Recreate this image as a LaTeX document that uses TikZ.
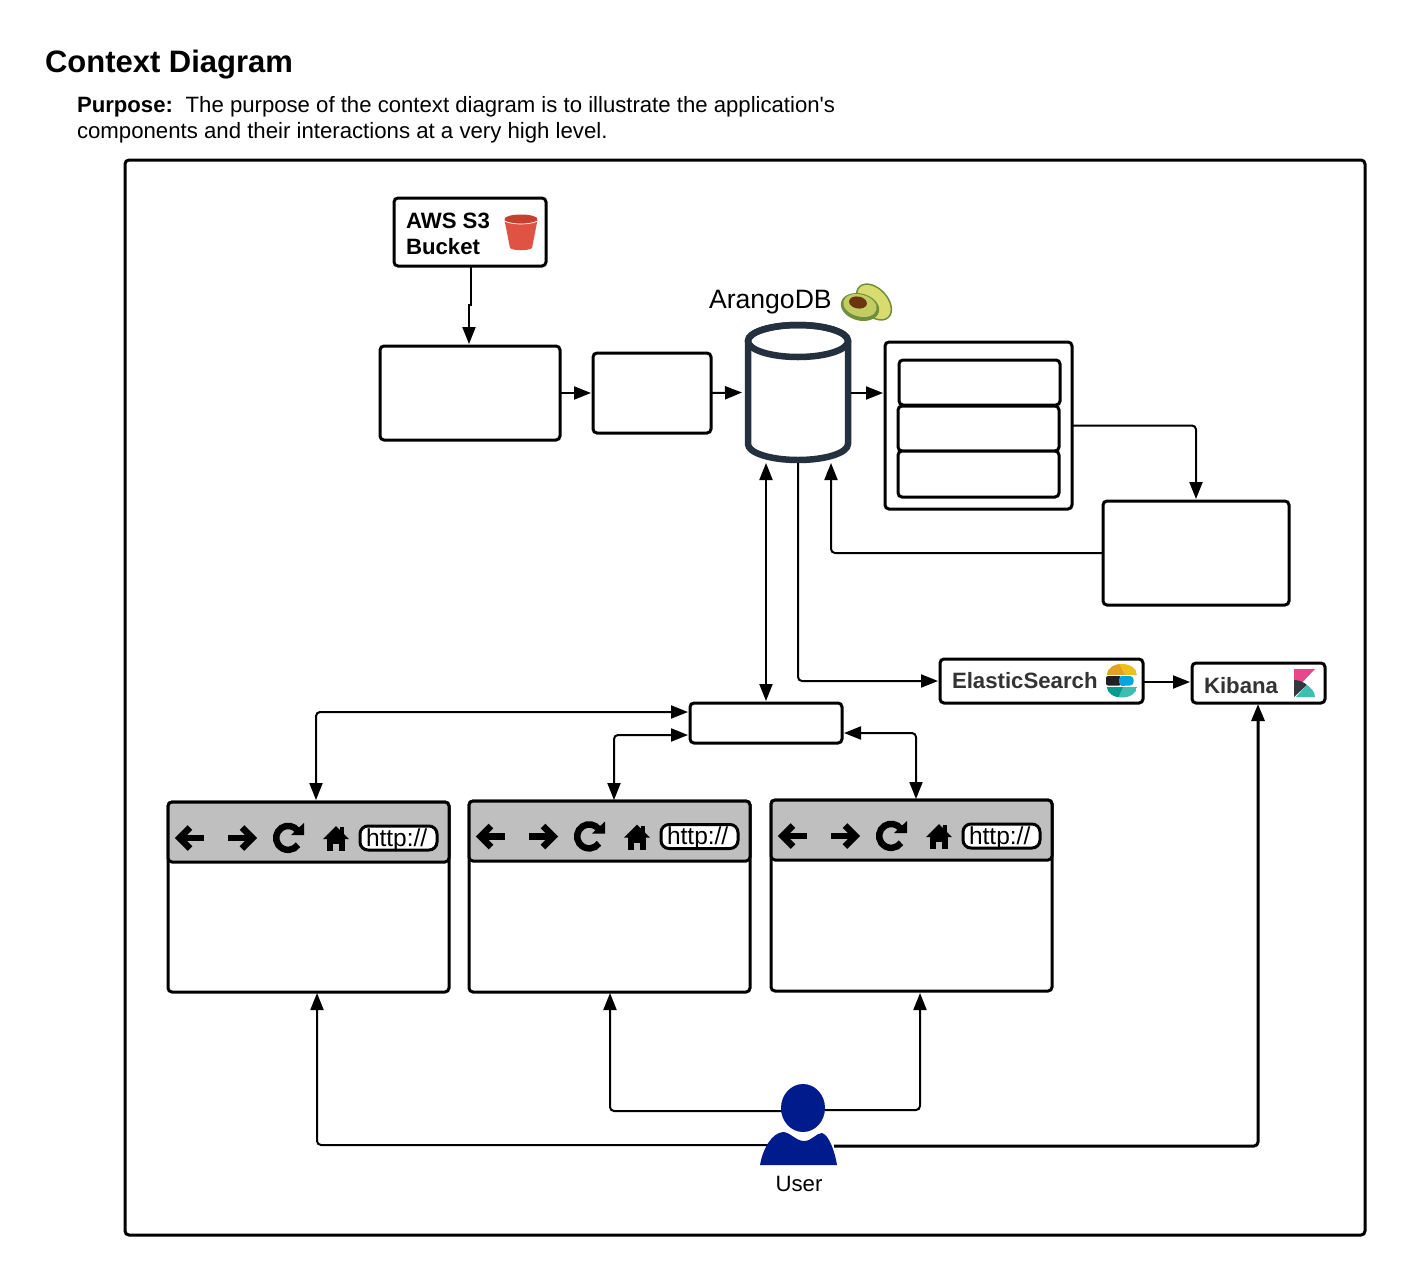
\documentclass[tikz,border=0pt]{standalone}
\usepackage{fontspec}
\setmainfont{Liberation Sans}
\newfontfamily\plainfont{Liberation Sans}
\usetikzlibrary{arrows.meta,calc}
\definecolor{dbc}{HTML}{25303F}
\definecolor{hdr}{HTML}{BFBFBF}
\definecolor{usr}{HTML}{001C8C}
\definecolor{bkt}{HTML}{E05243}
\definecolor{bktd}{HTML}{C7402F}
\definecolor{txtd}{HTML}{333333}
\definecolor{avol}{HTML}{D8DC6E}
\definecolor{avod}{HTML}{6F8F3A}
\definecolor{avom}{HTML}{C3CC62}
\definecolor{avop}{HTML}{6B3510}
\definecolor{esy}{HTML}{F0BF1A}
\definecolor{eso}{HTML}{DFA225}
\definecolor{esb}{HTML}{07A5DE}
\definecolor{esk}{HTML}{231F20}
\definecolor{est}{HTML}{3EBEB0}
\definecolor{estd}{HTML}{019B8F}
\definecolor{kbp}{HTML}{E8478B}
\definecolor{kbk}{HTML}{343741}
\tikzset{
  tip/.tip={Triangle[length=17pt,width=13pt]},
  box/.style={draw=black,fill=white,rounded corners=4pt,line width=3pt,inner sep=0pt,outer sep=0pt},
  hbox/.style={box,fill=hdr},
  conn/.style={draw=black,line width=2pt,rounded corners=4pt,-tip},
  both/.style={conn,tip-tip},
  heavy/.style={conn,line width=3pt},
  lbl/.style={inner sep=0pt,outer sep=0pt,anchor=base west,font=\fontsize{22.2}{26}\selectfont},
  blbl/.style={lbl,font=\fontsize{22.2}{26}\selectfont\bfseries},
  ico/.style={line width=6.5pt,draw=black},
  pics/browsericons/.style={code={
    \draw[ico] (12,36) -- (36,36);
    \draw[ico] (22,25.5) -- (11.5,36) -- (22,46.5);
    \draw[ico] (60,36) -- (84,36);
    \draw[ico] (74,25.5) -- (84.5,36) -- (74,46.5);
    \draw[ico] (130,29) arc[start angle=-35,end angle=-325,x radius=12,y radius=12];
    \fill[black] (123,33) -- (136,33) -- (136,21) -- cycle;
    \fill[black] (168,24) -- (181,37) -- (155,37) -- cycle;
    \fill[black] (159,36) rectangle (177,49);
    \fill[black] (172,25) rectangle (176,32);
    \fill[hdr] (165,42) rectangle (171,49);
    \node[draw=black,fill=white,line width=3pt,rounded corners=8pt,inner sep=0pt,outer sep=0pt,minimum width=77pt,minimum height=24pt] (url) at (230.5,36) {};
    \node[lbl,font=\fontsize{24.5}{26}\selectfont] (urltext) at (198,44) {http://};
  }}
}
\newcommand{\bx}[6][box]{%
  \pgfmathsetmacro{\bxw}{#5-#3}\pgfmathsetmacro{\bxh}{#6-#4}%
  \pgfmathsetmacro{\bxx}{(#5+#3)/2}\pgfmathsetmacro{\bxy}{(#6+#4)/2}%
  \node[#1,minimum width=\bxw pt,minimum height=\bxh pt] (#2) at (\bxx,\bxy) {};}
\begin{document}
\begin{tikzpicture}[x=1pt,y=-1pt]
\useasboundingbox (0,0) rectangle (1405,1275);
\fill[white] (0,0) rectangle (1405,1275);
% texts
\node[lbl,font=\fontsize{31}{34}\selectfont\bfseries] (title) at (45,72) {Context Diagram};
\node[lbl,font=\fontsize{22.15}{26}\selectfont\plainfont] (purp1) at (77,112) {\textbf{Purpose:}\hspace{4.5pt} The purpose of the context diagram is to illustrate the application's};
\node[lbl] (purp2) at (77,138.5) {components and their interactions at a very high level.};
% frame
\bx{frame}{125}{160}{1365}{1235}
% boxes
\bx{s3}{394}{198}{546}{266}
\bx{ingest}{380}{346}{560}{440}
\bx{loader}{593}{353}{711}{433}
\bx{stack}{885}{342}{1072}{509}
\bx{st1}{899}{360}{1060}{405}
\bx{st2}{898}{406}{1059}{451}
\bx{st3}{898}{451}{1059}{497}
\bx{ebox}{1103}{501}{1289}{605}
\bx{es}{940}{659}{1143}{703}
\bx{kib}{1192}{663}{1325}{703}
\bx{srv}{690}{703}{842}{743}
\bx{bra}{168}{802}{449}{992}
\bx[hbox]{braH}{168}{802}{449}{862}
\bx{brb}{469}{801}{750}{992}
\bx[hbox]{brbH}{469}{801}{750}{861}
\bx{brc}{771}{800}{1052}{991}
\bx[hbox]{brcH}{771}{800}{1052}{860}
\pic at (168,802) {browsericons};
\pic at (469,800.5) {browsericons};
\pic at (771,800) {browsericons};
% database
\node[inner sep=0pt,outer sep=0pt,minimum width=106pt,minimum height=141pt] (db) at (798,392.5) {};
\draw[draw=dbc,fill=white,line width=6.5pt,line join=round] (748,341) -- (748,444) arc[start angle=180,end angle=0,x radius=50,y radius=16] -- (848,341) arc[start angle=0,end angle=-180,x radius=50,y radius=16] -- cycle;
\draw[draw=dbc,line width=6.5pt] (798,341) ellipse[x radius=50,y radius=16];
% labels
\node[blbl] (s3t1) at (406,228) {AWS S3};
\node[blbl] (s3t2) at (406,254) {Bucket};
\node[lbl,font=\fontsize{26.6}{30}\selectfont] (arango) at (709,308) {ArangoDB};
\node[blbl,text=txtd] (estx) at (952,688.5) {ElasticSearch};
\node[blbl,text=txtd] (kibt) at (1204,693) {Kibana};
% S3 icon
\fill[bkt] (504.5,220) -- (510,248) .. controls (514,251) and (528,251) .. (532,248) -- (537.5,220) -- cycle;
\fill[bktd] (521,219) ellipse[x radius=16.5,y radius=4.5];
\draw[white,line width=.7pt] (504.5,221) .. controls (512,225) and (530,225) .. (537.5,221);
% avocado icon
\draw[draw=avod,fill=avol,line width=1.5pt,rotate around={-47:(874,302)}] (874,302) ellipse[x radius=21,y radius=13.5];
\fill[avod,rotate around={-15:(860,307)}] (860,307) ellipse[x radius=19.5,y radius=13.5];
\fill[avom,rotate around={-15:(860,305.5)}] (860,305.5) ellipse[x radius=17,y radius=11];
\fill[avop,rotate around={-10:(858,302.5)}] (858,302.5) ellipse[x radius=9,y radius=6];
% ES icon
\begin{scope}
\clip (1107,664) rectangle (1137,674.5);
\clip (1122,674.5) ellipse[x radius=15,y radius=10.5];
\fill[esy] (1107,664) rectangle (1137,675);
\fill[eso] (1107,675) -- (1107,664) -- (1119,664) -- (1125,675) -- cycle;
\end{scope}
\fill[esk,rounded corners=2pt] (1106,676) rectangle (1121,685.5);
\fill[esb,rounded corners=3.5pt] (1119,676) rectangle (1133.5,685.5);
\fill[esb] (1121,676) rectangle (1125,685.5);
\begin{scope}
\clip (1107,687) rectangle (1137,697.5);
\clip (1122,687) ellipse[x radius=15,y radius=10.5];
\fill[est] (1107,687) rectangle (1137,698);
\fill[estd] (1107,687) -- (1107,698) -- (1118,698) -- (1123,687) -- cycle;
\end{scope}
% Kibana icon
\fill[kbp] (1294,669) -- (1315,669) -- (1294,691) -- cycle;
\fill[kbk] (1294,680) .. controls (1299,680) and (1304,682) .. (1307,685) -- (1294,697) -- cycle;
\fill[est] (1296,697) -- (1307,685) .. controls (1311,688) and (1315,692) .. (1315,697) -- cycle;
% connectors
\draw[conn,sharp corners] ($(s3.south)+(1,0)$) -- ++(0,39) -| ($(ingest.north)+(-1,-2)$);
\draw[conn] (ingest.east) -- ($(loader.west)+(-2,0)$);
\draw[conn] (loader.east) -- ($(db.west)+(-3,0)$);
\draw[conn] (db.east |- loader.east) -- ($(stack.west |- loader.east)+(-2,0)$);
\draw[conn] (stack.east) -| ($(ebox.north)+(0,-2)$);
\draw[conn] (ebox.west) -| ($(db.south)+(33,0)$);
\draw[both] ($(db.south)+(-32,0)$) -- ($(srv.north)+(0,-2)$);
\draw[conn] (db.south) |- ($(es.west)+(-2,0)$);
\draw[conn] ($(es.east)+(0,1)$) -- ($(kib.west)+(-2,-1)$);
\draw[both] ($(srv.north west)+(-2,9)$) -| ($(bra.north west)+(148,-2)$);
\draw[both] ($(srv.north west)+(-2,32)$) -| ($(brb.north west)+(145,-1)$);
\draw[both] ($(srv.north east)+(2,30)$) -| ($(brc.north west)+(145,-1)$);
% user
\node[inner sep=0pt,outer sep=0pt,minimum width=77pt,minimum height=81pt] (user) at (798.5,1124.5) {};
\draw[conn] ($(user.west)+(21,20.5)$) -| ($(bra.south west)+(149,1)$);
\draw[conn] ($(user.west)+(23,-13.5)$) -| ($(brb.south west)+(141,1)$);
\draw[conn] ($(user.east)+(-13,-14.5)$) -| ($(brc.south west)+(149,2)$);
\draw[heavy] ($(user.east)+(-3,21.5)$) -| ($(kib.south)+(-0.5,1)$);
\fill[usr] (803,1108) ellipse[x radius=22,y radius=24];
\fill[usr] (760,1165) .. controls (763,1148) and (772,1133) .. (783,1132) .. controls (790,1132) and (796,1141) .. (804,1141) .. controls (812,1141) and (816,1133) .. (822,1133) .. controls (829,1135) and (835,1152) .. (837,1165) -- cycle;
\node[lbl,anchor=base] (usert) at (799,1191) {User};
\end{tikzpicture}
\end{document}
